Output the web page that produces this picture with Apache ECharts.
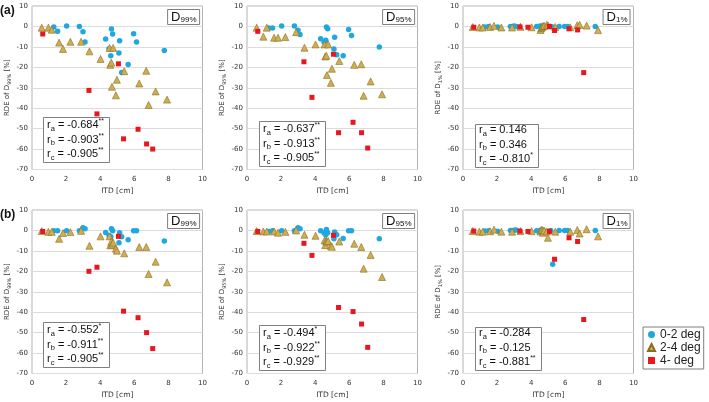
<!DOCTYPE html>
<html>
<head>
<meta charset="utf-8">
<script src="https://cdn.jsdelivr.net/npm/echarts@6/dist/echarts.min.js"></script>
<style>
html,body{margin:0;padding:0;background:#fff;}
#c{width:709px;height:402px;}
</style>
</head>
<body>
<div id="c"></div>
<script>
// ---------- data ----------
const groupNames = ['0-2 deg', '2-4 deg', '4- deg'];
const xTicks = [0, 2, 4, 6, 8, 10];
const yTicks = [10, 0, -10, -20, -30, -40, -50, -60, -70];
const doseLabels = ['99%', '95%', '1%'];
const rowLabels = ['(a)', '(b)'];

const itdBlue = [1.28, 1.50, 2.03, 2.78, 2.99, 3.11, 4.32, 4.52, 4.62, 4.66, 4.73, 5.10, 5.14, 5.26, 5.64, 5.96, 6.13, 7.76];
const blueA99 = [-0.3, -2.3, 0.2, 0, -2.6, -7.6, -6.2, -10.9, -14.4, -1.3, -3.7, -13, -7, -22.5, -18.6, -3.6, -7.6, -11.8];
const blueA95 = [-0.8, -0.8, 0.2, 0.2, -1.9, -3.9, -6, -7.6, -6.8, -0.3, -1.1, -11, -5.3, -13.9, -14.3, -1.5, -4.4, -10];
const blueA1  = [-0.3, 0, -0.3, 0, 0.2, 0, 0, 0.2, -0.3, 0.2, 0.2, 0, 0, -0.3, 0, 0, 0, 0];
const blueB99 = [-0.2, -0.2, -0.2, -0.2, 1.3, 0.8, -1, -2.5, -3.1, 0.8, -0.2, -6, -1.1, -3.1, -4.6, -0.2, -0.2, -5.2];
const blueB95 = [-0.5, -0.2, -0.2, -0.2, 1.3, 0.8, -0.2, -1.3, -2.1, 0.5, -1.1, -4.1, -0.8, -2.1, -3.9, -0.2, -0.2, -4.1];
const blueB1  = [-0.3, -0.2, -0.4, 0, 0.1, 0.2, -0.2, 0, 0.3, 0, -0.2, -0.3, 0, -16.6, 0, 0, 0, 0];

const itdTri = [0.57, 0.96, 1.16, 1.59, 1.82, 2.25, 2.88, 3.37, 4.02, 4.55, 4.59, 4.65, 4.69, 4.76, 4.92, 4.98, 5.41, 6.29, 6.70, 6.84, 7.25, 7.92];
const triA99 = [-0.6, -0.6, -1.6, -7.9, -11, -7.5, -7.5, -12.2, -15.9, -10.5, -18.8, -17.7, -29.5, -10.5, -33.7, -26.1, -21.9, -27.9, -21.7, -38.4, -31.8, -35.8];
const triA95 = [-0.6, -5, -0.6, -5.5, -5.5, -5.2, -2.8, -10.4, -8.8, -8.8, -14.7, -14.3, -23.8, -8.8, -27.6, -20.7, -16.9, -18.8, -18.5, -33.9, -26.9, -33.2];
const triA1  = [-0.3, -0.5, -0.5, -0.3, 0.3, -0.5, -0.5, -0.2, -0.4, -1.7, -0.8, -0.3, 0.2, 0.3, 0.8, 0.5, -0.3, -0.4, 0.6, 0.8, 0.4, -1.8];
const triB99 = [-0.3, -0.7, -0.7, -4.1, -1.3, -0.8, -0.2, -7.5, -2.9, -2.9, -7.3, -5.5, -7.0, -6.0, -8.9, -9.9, -11.2, -8.1, -8.1, -21.3, -15.3, -25.4];
const triB95 = [-0.3, -0.5, -0.5, -0.5, -1.1, -0.7, 0, -2.1, -2.6, -4.9, -7.2, -5.0, -5.5, -5.2, -7.6, -8.0, -5.4, -6.5, -8.1, -18.7, -12, -22.8];
const triB1  = [-0.3, -0.6, -0.6, -0.4, 0.4, -0.6, -0.6, -0.3, -0.3, -0.5, 0.2, 0.2, -1.1, 0, -0.5, -3.6, -0.6, -0.6, 0.2, -1.5, 0.6, -2.9];

const itdRed = [0.63, 3.34, 3.81, 5.07, 5.37, 6.22, 6.72, 7.08];
const redA99 = [-3.7, -31.3, -42.8, -18.3, -55, -50.3, -57.5, -60];
const redA95 = [-2.4, -17.3, -34.7, -13.6, -52, -46.9, -52, -59.5];
const redA1  = [-0.4, -0.2, -0.4, 0, -2, -1.1, -1.7, -22.6];
const redB99 = [-0.5, -20, -18, -2.9, -39.5, -42.7, -50, -57.8];
const redB95 = [-0.5, -6.3, -12.2, -2.4, -37.7, -39.7, -45.8, -57.2];
const redB1  = [-0.3, -0.3, -0.5, -0.5, -14.1, -3.6, -5.4, -43.6];

// correlation coefficients [ra, rb, rc] with significance marks
const corrA99 = [['-0.684', '**'], ['-0.903', '**'], ['-0.905', '**']];
const corrA95 = [['-0.637', '**'], ['-0.913', '**'], ['-0.905', '**']];
const corrA1  = [['0.146', ''], ['0.346', ''], ['-0.810', '*']];
const corrB99 = [['-0.552', '*'], ['-0.911', '**'], ['-0.905', '**']];
const corrB95 = [['-0.494', '*'], ['-0.922', '**'], ['-0.929', '**']];
const corrB1  = [['-0.284', ''], ['-0.125', ''], ['-0.881', '**']];

const panels = [
  {blue: blueA99, tri: triA99, red: redA99, corr: corrA99},
  {blue: blueA95, tri: triA95, red: redA95, corr: corrA95},
  {blue: blueA1,  tri: triA1,  red: redA1,  corr: corrA1},
  {blue: blueB99, tri: triB99, red: redB99, corr: corrB99},
  {blue: blueB95, tri: triB95, red: redB95, corr: corrB95},
  {blue: blueB1,  tri: triB1,  red: redB1,  corr: corrB1}
];

// ---------- layout ----------
const gridLeft = [32, 247, 463];
const gridTop = [6, 210];
const gridW = 170.5;
const gridH = 163.5;
const corrPos = [[43, 117], [259, 121], [475, 122], [43, 322], [259, 325], [475, 325]];

const zip = (xs, ys) => xs.map((x, i) => [x, ys[i]]);

const grids = [], xAxes = [], yAxes = [], series = [], titles = [];
const FONT = 'DejaVu Sans';
const TFONT = 'Liberation Sans';

panels.forEach((p, i) => {
  const col = i % 3, row = Math.floor(i / 3);
  grids.push({left: gridLeft[col], top: gridTop[row], width: gridW, height: gridH,
    show: true, borderColor: '#b3b3b3', borderWidth: 1, backgroundColor: 'transparent'});
  xAxes.push({type: 'value', gridIndex: i, min: 0, max: 10, interval: 2,
    name: 'ITD [cm]', nameLocation: 'middle', nameGap: 18,
    nameTextStyle: {fontFamily: FONT, fontSize: 7.5, color: '#333'},
    axisLine: {show: false}, axisTick: {show: false}, splitLine: {show: false},
    axisLabel: {fontFamily: FONT, fontSize: 7, color: '#333', margin: 6}});
  yAxes.push({type: 'value', gridIndex: i, min: -70, max: 10, interval: 10,
    name: '{a|RDE of D}{b|' + doseLabels[col] + '}{a| [%]}', nameLocation: 'middle', nameGap: 20, nameRotate: 90,
    nameTextStyle: {rich: {
      a: {fontFamily: FONT, fontSize: 7, color: '#333', lineHeight: 10, verticalAlign: 'middle'},
      b: {fontFamily: FONT, fontSize: 5, color: '#333', lineHeight: 6, verticalAlign: 'bottom'}}},
    axisLine: {show: false}, axisTick: {show: false},
    splitLine: {show: true, lineStyle: {color: '#dcdcdc', width: 1}},
    axisLabel: {fontFamily: FONT, fontSize: 7, color: '#333', margin: 4}});

  series.push({name: groupNames[0], type: 'scatter', xAxisIndex: i, yAxisIndex: i,
    symbol: 'circle', symbolSize: 5.5, data: zip(itdBlue, p.blue),
    itemStyle: {color: '#1fa8e0', opacity: 1}});
  series.push({name: groupNames[1], type: 'scatter', xAxisIndex: i, yAxisIndex: i,
    symbol: 'triangle', symbolSize: 7, data: zip(itdTri, p.tri),
    itemStyle: {color: '#cfae52', borderColor: '#8a6d22', borderWidth: 0.6, opacity: 1}});
  series.push({name: groupNames[2], type: 'scatter', xAxisIndex: i, yAxisIndex: i,
    symbol: 'rect', symbolSize: 5, data: zip(itdRed, p.red),
    itemStyle: {color: '#e8161e', opacity: 1}});

  // dose label box, top-right of plot
  titles.push({text: '{d|D}{s|' + doseLabels[col] + '}',
    right: 709 - (gridLeft[col] + gridW) + 3, top: gridTop[row] + 3,
    padding: [1, 3, 1, 4], borderColor: '#7f7f7f', borderWidth: 1, backgroundColor: '#fff',
    textStyle: {fontWeight: 'normal', rich: {
      d: {fontFamily: TFONT, fontSize: 13, fontWeight: 'normal', color: '#111', lineHeight: 14, verticalAlign: 'middle'},
      s: {fontFamily: TFONT, fontSize: 8, fontWeight: 'normal', color: '#111', lineHeight: 8, verticalAlign: 'bottom'}}}});

  // correlation box
  const subs = ['a', 'b', 'c'];
  const txt = p.corr.map((c, k) =>
    '{r|r}{s|' + subs[k] + '}{r| = ' + c[0] + '}' + (c[1] ? '{p|' + c[1] + '}' : '')).join('\n');
  titles.push({text: txt, left: corrPos[i][0], top: corrPos[i][1],
    padding: [1, 6, 1, 4], borderColor: '#7f7f7f', borderWidth: 1, backgroundColor: '#fff',
    textStyle: {fontWeight: 'normal', rich: {
      r: {fontFamily: TFONT, fontSize: 11, fontWeight: 'normal', color: '#111', lineHeight: 14.5, verticalAlign: 'middle'},
      s: {fontFamily: TFONT, fontSize: 7.5, fontWeight: 'normal', color: '#111', lineHeight: 8, verticalAlign: 'bottom'},
      p: {fontFamily: TFONT, fontSize: 7, fontWeight: 'normal', color: '#111', lineHeight: 8, verticalAlign: 'top'}}}});
});

titles.push({text: rowLabels[0], left: 0, top: 5, padding: 0,
  textStyle: {fontFamily: TFONT, fontSize: 12, fontWeight: 'bold', color: '#111'}});
titles.push({text: rowLabels[1], left: 0, top: 209, padding: 0,
  textStyle: {fontFamily: TFONT, fontSize: 12, fontWeight: 'bold', color: '#111'}});

const chart = echarts.init(document.getElementById('c'), null, {renderer: 'canvas'});
chart.setOption({
  animation: false,
  backgroundColor: '#fff',
  title: titles,
  grid: grids,
  xAxis: xAxes,
  yAxis: yAxes,
  legend: {data: groupNames, orient: 'vertical', left: 643, top: 327,
    borderColor: '#7f7f7f', borderWidth: 1, padding: [1, 3, 2, 4], itemGap: 0,
    itemWidth: 7, itemHeight: 7, backgroundColor: '#fff',
    textStyle: {fontFamily: TFONT, fontSize: 12, lineHeight: 13, color: '#222'}},
  series: series
});
</script>
</body>
</html>
